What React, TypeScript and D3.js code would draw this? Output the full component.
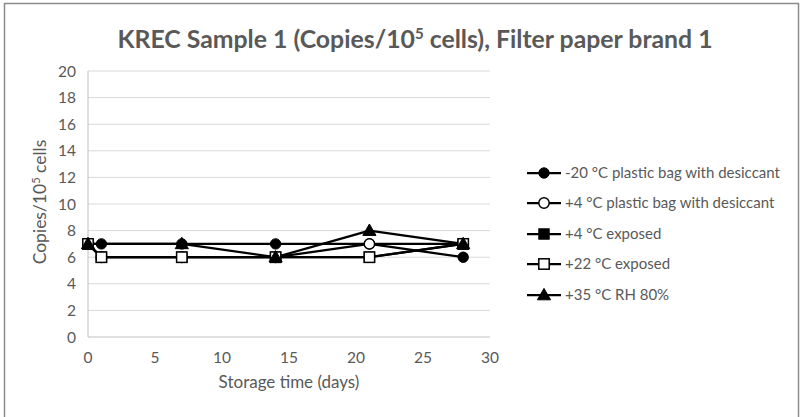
import React from "react";
import * as d3 from "d3";

const days = [0, 1, 7, 14, 21, 28];
const seriesNames = [
  "-20 °C plastic bag with desiccant",
  "+4 °C plastic bag with desiccant",
  "+4 °C exposed",
  "+22 °C exposed",
  "+35 °C RH 80%",
];
const s1Values = [7, 7, 7, 7, 7, 6];
const s2Values = [7, 6, 6, 6, 7, 7];
const s3Values = [7, 6, 6, 6, 6, 7];
const s4Values = [7, 6, 6, 6, 6, 7];
const s5Days = [0, 7, 14, 21, 28];
const s5Values = [7, 7, 6, 8, 7];
const markerTypes = ["circle-filled", "circle-open", "square-filled", "square-open", "triangle"];
const xTicks = [0, 5, 10, 15, 20, 25, 30];
const yTicks = [0, 2, 4, 6, 8, 10, 12, 14, 16, 18, 20];

const FONT = "Lato, 'Open Sans', sans-serif";
const TEXT = "#595959";

type Pt = { x: number; y: number };

function Marker({ type, cx, cy }: { type: string; cx: number; cy: number }) {
  const r = 5.2;
  if (type === "circle-filled")
    return <circle cx={cx} cy={cy} r={r} fill="#000" stroke="#000" strokeWidth={1} />;
  if (type === "circle-open")
    return <circle cx={cx} cy={cy} r={r} fill="#fff" stroke="#000" strokeWidth={1.5} />;
  if (type === "square-filled")
    return <rect x={cx - r} y={cy - r} width={2 * r} height={2 * r} fill="#000" stroke="#000" strokeWidth={1} />;
  if (type === "square-open")
    return <rect x={cx - r} y={cy - r} width={2 * r} height={2 * r} fill="#fff" stroke="#000" strokeWidth={1.5} />;
  const p = d3.symbol(d3.symbolTriangle, 75)();
  return <path d={p || ""} transform={`translate(${cx},${cy + 1})`} fill="#000" stroke="#000" strokeWidth={1} />;
}

export default function App() {
  const W = 801, H = 417;
  const x = d3.scaleLinear().domain([0, 30]).range([88, 490]);
  const y = d3.scaleLinear().domain([0, 20]).range([337, 71]);

  const series: Pt[][] = [
    days.map((d, i) => ({ x: d, y: s1Values[i] })),
    days.map((d, i) => ({ x: d, y: s2Values[i] })),
    days.map((d, i) => ({ x: d, y: s3Values[i] })),
    days.map((d, i) => ({ x: d, y: s4Values[i] })),
    s5Days.map((d, i) => ({ x: d, y: s5Values[i] })),
  ];
  const line = d3.line<Pt>().x((p) => x(p.x)).y((p) => y(p.y));

  const legendY = [173, 203, 234, 264, 295];

  return (
    <svg width={W} height={H} style={{ position: "absolute", left: 0, top: 0 }}>
      <rect x={0} y={0} width={W} height={H} fill="#fff" />
      <rect x={4.5} y={3.5} width={794} height={430} fill="#fff" stroke="#8c8c8c" strokeWidth={1.5} />
      <text x={415} y={48} textAnchor="middle" fontFamily={FONT} fontWeight={700} fontSize={24.8} fill={TEXT}>
        KREC Sample 1 (Copies/10<tspan baselineShift="super" fontSize={15}>5</tspan> cells), Filter paper brand 1
      </text>

      {yTicks.map((t) => (
        <g key={t}>
          {t > 0 && <line x1={88} x2={490} y1={y(t)} y2={y(t)} stroke="#d9d9d9" strokeWidth={1} />}
          <text x={76} y={y(t) + 5.5} textAnchor="end" fontFamily={FONT} fontSize={15.5} fill={TEXT}>
            {t}
          </text>
        </g>
      ))}
      <line x1={88} x2={88} y1={71} y2={337} stroke="#bfbfbf" strokeWidth={1} />
      <line x1={88} x2={490} y1={337} y2={337} stroke="#bfbfbf" strokeWidth={1} />
      {xTicks.map((t) => (
        <text key={t} x={x(t)} y={363} textAnchor="middle" fontFamily={FONT} fontSize={15.5} fill={TEXT}>
          {t}
        </text>
      ))}
      <text x={289} y={388} textAnchor="middle" fontFamily={FONT} fontSize={17} fill={TEXT}>
        Storage time (days)
      </text>
      <text transform="translate(46,202) rotate(-90)" textAnchor="middle" fontFamily={FONT} fontSize={17.5} fill={TEXT}>
        Copies/10<tspan baselineShift="super" fontSize={11}>5</tspan> cells
      </text>

      {series.map((s, i) => (
        <path key={i} d={line(s) || ""} fill="none" stroke="#000" strokeWidth={2.25} strokeLinejoin="round" />
      ))}
      {series.map((s, i) => (
        <g key={i}>
          {s.map((p, j) => (
            <Marker key={j} type={markerTypes[i]} cx={x(p.x)} cy={y(p.y)} />
          ))}
        </g>
      ))}

      {seriesNames.map((n, i) => (
        <g key={n}>
          <line x1={527} x2={561} y1={legendY[i]} y2={legendY[i]} stroke="#000" strokeWidth={2.25} />
          <Marker type={markerTypes[i]} cx={544} cy={legendY[i]} />
          <text x={565} y={legendY[i] + 5} fontFamily={FONT} fontSize={15} fill={TEXT}>
            {n}
          </text>
        </g>
      ))}
    </svg>
  );
}
